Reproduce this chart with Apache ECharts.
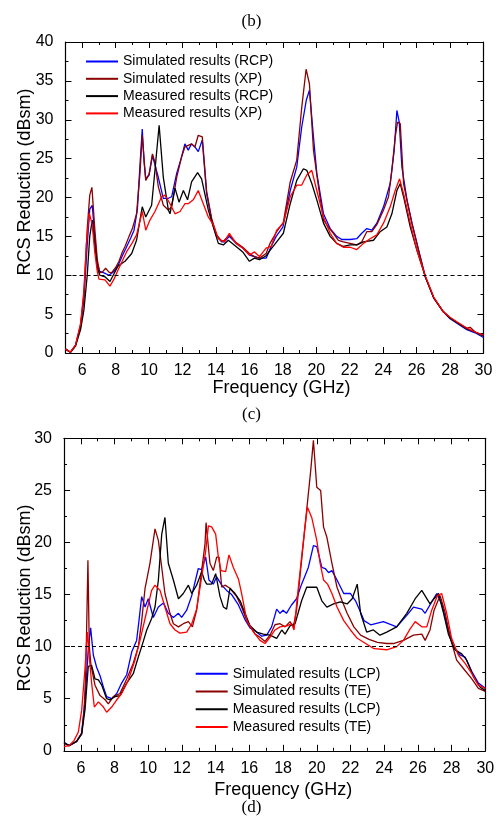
<!DOCTYPE html>
<html>
<head>
<meta charset="utf-8">
<script src="https://cdn.jsdelivr.net/npm/echarts@6/dist/echarts.min.js"></script>
<style>
  html, body { margin: 0; padding: 0; background: #fff; }
  #chart { width: 499px; height: 823px; }
</style>
</head>
<body>
<div id="chart"></div>
<script>
// ---- panel (c) ----
const cFreqSimRcp = [5.0,5.3,5.6,5.9,6.1,6.3,6.45,6.6,6.75,6.9,7.05,7.3,7.6,7.9,8.15,8.4,8.6,8.9,9.1,9.3,9.45,9.59,9.7,9.8,10.0,10.2,10.35,10.55,10.85,11.15,11.35,11.65,11.94,12.14,12.34,12.54,12.74,12.94,13.18,13.44,13.74,14.04,14.34,14.5,14.8,15.2,15.6,16.0,16.3,16.6,17.0,17.3,17.6,18.0,18.44,18.83,19.13,19.4,19.59,19.83,20.03,20.43,20.83,21.22,21.52,22.02,22.42,22.72,23.02,23.32,23.62,24.02,24.42,24.66,24.82,24.96,25.12,25.42,25.72,26.12,26.52,27.02,27.6,28.0,28.5,29.0,29.5,30];
const cSimRcp = [0.5,0.1,1.0,3.5,7,14,18.5,19.0,15,11.5,10.5,10.3,10.0,10.5,11.3,12.5,13.4,14.8,15.8,18.5,24,28.8,24.5,22.4,22.9,25.4,24.2,22.6,19.9,19.9,20.1,23.1,25.2,26.9,26.1,26.9,26.5,25.9,27.4,20.5,17.1,15.0,14.3,14.3,15.0,14.1,13.5,12.6,12.4,12.2,12.2,13.7,15.0,16.2,20.9,23.9,29.1,32.5,33.8,27.8,23.1,17.9,16.0,15.0,14.6,14.6,14.7,15.4,16.0,15.8,16.7,18.8,21.8,26.1,31.2,29.7,23.9,19.7,16.7,13.2,9.8,7.1,5.3,4.4,3.7,3.0,2.6,2.0];

const cFreqSimXp = [5.0,5.3,5.6,5.9,6.1,6.3,6.45,6.58,6.75,6.9,7.05,7.2,7.4,7.6,7.75,8.0,8.2,8.4,8.56,8.8,9.0,9.25,9.45,9.59,9.8,10.0,10.2,10.35,10.55,10.85,11.15,11.35,11.65,11.94,12.14,12.34,12.54,12.74,12.94,13.18,13.44,13.74,14.04,14.34,14.5,14.8,15.2,15.6,16.0,16.3,16.6,17.0,17.23,17.63,18.03,18.44,18.83,19.13,19.39,19.59,19.83,20.13,20.43,20.73,21.02,21.32,21.62,22.02,22.42,22.72,23.02,23.32,23.62,24.02,24.32,24.52,24.72,24.86,25.02,25.22,25.42,25.72,26.12,26.52,27.02,27.6,28.0,28.5,29.0,29.2,29.5,30];
const cSimXp = [0.5,0.1,1.0,3.5,7.5,16,20.3,21.3,16,12,10.3,10.4,10.9,10.4,10.3,11.0,11.8,13.0,13.7,15.0,16.0,17.9,23,28.0,22.2,23.0,25.6,24.5,21.4,19.0,18.4,18.8,22.6,25.2,26.5,26.7,26.9,26.5,28.0,27.8,20.8,17.3,15.2,14.4,14.5,15.2,14.2,13.6,12.8,12.4,12.2,12.8,14.1,15.6,16.8,22.0,24.8,31.6,36.5,34.6,26.1,21.4,17.1,16.2,15.4,14.5,14.3,14.1,13.9,14.3,15.6,15.6,16.5,18.4,20.1,23.5,27.8,29.7,29.5,21.8,19.7,16.7,13.2,9.8,7.1,5.3,4.5,3.8,3.2,3.3,2.7,2.2];

const cFreqMeasRcp = [5.0,5.3,5.6,5.9,6.1,6.3,6.45,6.6,6.75,6.9,7.05,7.36,7.66,7.9,8.15,8.56,8.96,9.25,9.59,9.8,10.15,10.35,10.6,10.85,11.15,11.25,11.55,11.79,12.05,12.3,12.54,12.9,13.14,13.54,13.74,14.14,14.44,14.74,15.2,15.6,16.0,16.3,16.6,17.0,17.23,17.63,18.03,18.44,18.83,19.23,19.43,19.73,20.03,20.43,20.83,21.22,21.62,22.02,22.42,22.82,23.42,23.82,24.22,24.52,24.82,25.02,25.22,25.62,26.02,26.52,27.02,27.6,28.0,28.5,29.0,29.5,30];
const cMeasRcp = [0.5,0.1,0.9,3.0,5.5,10,15,17.1,14,11.0,10.0,9.8,9.2,10.2,11.2,11.8,12.8,14.5,18.8,17.5,19.0,23.5,29.3,22.6,18.4,17.9,21.2,19.4,20.9,19.7,22.0,23.2,22.4,18.4,16.9,14.1,13.9,14.5,13.7,13.0,11.8,12.2,12.0,12.5,13.2,14.3,15.4,19.2,22.2,23.7,23.5,21.8,19.7,16.7,15.0,14.1,13.7,13.9,13.9,14.3,14.5,15.6,16.2,17.9,20.9,21.8,20.1,16.2,13.2,9.8,7.1,5.3,4.5,3.8,3.1,2.7,2.2];

const cFreqMeasXp = [5.0,5.3,5.6,5.9,6.1,6.25,6.42,6.6,6.75,6.9,7.0,7.36,7.66,7.9,8.15,8.65,9.0,9.25,9.59,9.8,10.05,10.35,10.75,10.95,11.25,11.55,11.85,12.14,12.34,12.64,12.94,13.24,13.54,13.84,14.14,14.5,14.8,15.2,15.6,16.0,16.3,16.6,17.0,17.3,17.63,18.03,18.44,18.83,19.13,19.43,19.73,20.03,20.43,20.83,21.22,21.62,22.02,22.42,22.82,23.22,23.62,24.02,24.42,24.72,24.98,25.22,25.62,26.02,26.52,27.02,27.6,28.0,28.5,29.0,29.5,30];
const cMeasXp = [0.5,0.1,1.0,3.8,8,14,18.0,16.5,13,10.5,9.5,9.4,8.6,9.5,10.7,13.0,14.2,15.2,18.2,15.8,17.1,18.2,20.1,20.3,19.2,17.9,18.2,19.2,19.2,19.7,20.9,19.2,17.5,16.5,14.7,14.3,15.4,14.1,13.5,12.6,13.0,12.4,13.5,13.7,15.8,16.7,20.1,21.6,21.6,22.9,23.5,20.9,17.5,15.4,14.1,13.6,13.6,13.3,14.1,14.7,15.2,16.7,18.8,20.9,22.4,20.5,16.7,13.2,9.9,7.2,5.3,4.6,3.9,3.2,2.7,2.3];

// ---- panel (d) ----
const dFreqSimLcp = [5.0,5.3,5.75,6.05,6.25,6.45,6.58,6.74,6.94,7.14,7.34,7.53,7.83,8.13,8.42,8.72,9.02,9.31,9.45,9.61,9.81,10.0,10.3,10.6,10.9,11.19,11.49,11.79,11.98,12.28,12.58,12.97,13.17,13.41,13.6,13.86,14.06,14.36,14.65,14.95,15.35,15.74,16.04,16.43,16.73,17.03,17.32,17.62,17.82,18.0,18.2,18.5,18.8,19.1,19.5,19.8,20.0,20.3,20.5,20.7,20.9,21.2,21.6,22.0,22.3,22.6,22.8,23.2,23.95,24.74,25.34,25.74,26.23,26.43,26.82,27.12,27.41,27.71,28.1,28.5,28.8,29.2,29.59,30];
const dSimLcp = [0.8,0.5,0.9,1.7,5,10,11.8,9.2,8.0,7.2,6.1,5.2,5.0,5.5,6.5,7.3,9.5,10.6,12.5,14.8,13.8,14.6,12.8,13.8,14.2,13.2,12.8,13.2,12.8,13.5,14.9,17.5,17.4,18.6,16.4,16.0,16.7,15.9,15.4,15.0,14.0,12.6,11.8,11.4,11.0,11.1,11.9,13.6,13.2,13.5,13.2,14.0,14.6,16.0,17.6,19.7,19.6,17.6,17.5,17.1,17.3,16.4,15.1,15.1,14.4,13.3,12.5,12.1,12.4,11.9,13.0,13.8,13.6,13.2,14.3,15.1,14.1,12.2,10.0,9.2,9.0,7.6,6.5,6.0];

const dFreqSimTe = [5.0,5.3,5.75,6.05,6.2,6.3,6.42,6.5,6.6,6.84,7.14,7.44,7.63,7.93,8.32,8.72,9.11,9.41,9.61,9.81,10.1,10.4,10.6,10.8,10.99,11.29,11.49,11.79,12.08,12.38,12.62,12.87,13.17,13.37,13.43,13.66,13.86,14.06,14.2,14.36,14.55,14.85,15.25,15.54,15.84,16.14,16.34,16.63,16.93,17.22,17.52,17.82,18.12,18.41,18.61,18.8,19.1,19.4,19.64,19.8,20.0,20.23,20.4,20.6,20.9,21.2,21.5,21.8,22.2,22.6,23.1,23.6,24.15,24.55,25.14,25.74,26.23,26.43,26.72,26.96,27.32,27.61,27.91,28.3,28.7,29.2,29.59,30];
const dSimTe = [0.7,0.5,0.9,1.7,4,8,18.3,10,8.2,6.3,5.3,4.9,4.5,5.2,5.5,6.9,8.4,10.0,12.5,15.6,18.0,21.3,20.2,17.6,15.1,13.2,12.2,11.9,12.2,12.4,11.9,13.5,17.3,19.9,21.9,18.0,17.3,18.6,18.6,15.7,15.9,15.6,14.8,13.8,12.5,11.7,11.2,10.9,10.5,11.1,12.1,12.2,11.9,12.4,11.9,13.5,18.3,23.1,26.9,29.8,25.3,25.0,21.5,20.5,18.0,15.7,14.4,13.2,11.9,11.1,10.7,10.4,10.3,10.3,10.6,11.1,11.2,10.6,11.6,13.5,14.9,13.3,10.9,8.7,7.9,6.9,6.0,5.7];

const dFreqMeasLcp = [5.0,5.3,5.75,6.05,6.25,6.44,6.64,6.84,7.04,7.24,7.53,7.73,8.03,8.32,8.72,9.11,9.41,9.61,9.91,10.2,10.4,10.6,10.8,10.99,11.19,11.49,11.79,12.08,12.38,12.58,12.87,13.17,13.33,13.47,13.76,14.0,14.26,14.46,14.65,14.85,15.15,15.45,15.74,16.04,16.43,16.83,17.22,17.62,17.92,18.12,18.41,18.71,19.1,19.4,19.7,20.0,20.3,20.6,21.0,21.4,21.8,22.1,22.4,22.6,22.96,23.36,23.75,24.15,24.74,25.34,25.84,26.23,26.72,26.96,27.22,27.51,27.81,28.2,28.6,28.9,29.3,29.7,30];
const dMeasLcp = [0.8,0.5,0.9,1.6,4,8.1,8.2,6.9,6.8,6.3,5.0,4.9,5.2,5.3,6.5,7.4,9.0,10.0,11.6,12.7,13.8,16.4,20.8,22.4,18.0,16.4,14.6,15.1,15.9,15.1,15.9,17.2,16.4,16.0,16.0,17.0,14.8,13.8,13.6,15.6,15.1,14.4,13.2,12.0,11.4,11.2,11.1,10.8,11.6,11.2,12.0,12.2,14.4,15.7,15.7,15.7,14.4,13.8,14.1,14.3,14.1,14.6,16.0,13.2,11.4,11.6,11.1,11.4,11.9,13.2,14.6,15.4,14.1,14.6,15.1,13.3,11.2,9.7,9.3,8.7,7.1,6.1,5.8];

const dFreqMeasTe = [5.0,5.3,5.6,5.85,6.05,6.25,6.38,6.5,6.64,6.8,7.04,7.34,7.53,7.83,8.13,8.42,8.82,9.21,9.51,9.81,10.2,10.4,10.7,10.99,11.29,11.59,11.88,12.28,12.58,12.87,13.17,13.41,13.57,13.76,14.0,14.16,14.32,14.59,14.79,15.05,15.35,15.54,15.85,16.25,16.63,16.93,17.22,17.52,17.82,18.22,18.51,18.65,18.85,19.1,19.3,19.44,19.7,20.0,20.2,20.4,20.64,20.9,21.2,21.6,22.0,22.4,22.9,23.4,24.15,24.74,25.14,25.54,25.84,26.23,26.53,26.82,27.16,27.41,27.71,28.0,28.4,28.8,29.2,29.59,30];
const dMeasTe = [0.4,0.5,1.0,1.8,3.9,8.0,11.4,9,6.5,4.2,4.7,4.2,3.7,4.2,4.9,5.5,6.8,8.7,10.6,12.7,15.4,15.9,15.4,13.8,12.2,11.6,11.3,11.4,12.2,13.6,16.7,19.2,21.6,21.5,20.8,18.6,17.3,17.2,18.8,17.6,16.5,15.1,12.5,11.4,10.6,10.3,10.9,11.6,11.9,12.0,12.2,11.6,14.8,18.6,21.5,23.4,22.4,20.2,18.0,16.4,16.0,15.1,13.8,12.5,11.6,10.8,10.3,9.8,9.7,10.0,10.6,11.7,12.4,11.9,11.9,13.5,14.9,15.1,13.2,10.8,9.2,8.4,7.4,6.3,6.0];

// axis ticks / labels
const freqLabels = [6, 8, 10, 12, 14, 16, 18, 20, 22, 24, 26, 28, 30];
const freqMinor = [7, 9, 11, 13, 15, 17, 19, 21, 23, 25, 27, 29];
const threshold = 10;

const FONT = '"Liberation Sans", Arial, sans-serif';
const SERIF = '"Liberation Serif", "Times New Roman", serif';
const BLUE = '#0000ff', DARKRED = '#8b0000', BLACK = '#000000', RED = '#ff0000';

const zip = (xs, ys) => xs.map((x, i) => [x, ys[i]]);

const grids = [
  { left: 65.5, top: 42, width: 418, height: 311 },
  { left: 64, top: 438.3, width: 421.3, height: 312.5 }
];

function xAxesFor(gridIndex) {
  const base = {
    gridIndex, type: 'value', min: 5, max: 30, interval: 1,
    splitLine: { show: false },
    axisLine: { show: true, lineStyle: { color: '#000', width: 1.2 } }
  };
  return [
    { ...base, position: 'bottom',
      axisTick: { inside: true, length: 6, customValues: freqLabels, lineStyle: { color: '#000' } },
      axisLabel: { customValues: freqLabels, color: '#000', fontSize: 16, fontFamily: FONT, margin: 10 } },
    { ...base, position: 'bottom', axisLine: { show: false },
      axisTick: { inside: true, length: 3, customValues: freqMinor, lineStyle: { color: '#000' } },
      axisLabel: { show: false } },
    { ...base, position: 'top',
      axisTick: { inside: true, length: 6, customValues: freqLabels, lineStyle: { color: '#000' } },
      axisLabel: { show: false } },
    { ...base, position: 'top', axisLine: { show: false },
      axisTick: { inside: true, length: 3, customValues: freqMinor, lineStyle: { color: '#000' } },
      axisLabel: { show: false } }
  ];
}

function yAxesFor(gridIndex, max) {
  const base = {
    gridIndex, type: 'value', min: 0, max, interval: 5,
    splitLine: { show: false },
    axisLine: { show: true, lineStyle: { color: '#000', width: 1.2 } },
    axisTick: { inside: true, length: 6, lineStyle: { color: '#000' } },
    minorTick: { show: true, splitNumber: 2, length: 3, lineStyle: { color: '#000' } }
  };
  return [
    { ...base, position: 'left',
      axisLabel: { color: '#000', fontSize: 16, fontFamily: FONT, margin: 12 } },
    { ...base, position: 'right', axisLabel: { show: false } }
  ];
}

function line(name, data, color, xAxisIndex, yAxisIndex) {
  return {
    name, type: 'line', data, xAxisIndex, yAxisIndex,
    showSymbol: false, symbol: 'none', animation: false,
    color, lineStyle: { color, width: 1.3 }
  };
}

function thresholdLine(xAxisIndex, yAxisIndex) {
  return {
    type: 'line', data: [], xAxisIndex, yAxisIndex, silent: true,
    markLine: {
      silent: true, symbol: ['none', 'none'], animation: false,
      label: { show: false },
      lineStyle: { color: '#000', width: 1, type: [4, 3] },
      data: [{ yAxis: threshold }]
    }
  };
}

const legendBase = {
  orient: 'vertical', icon: 'rect', itemWidth: 32, itemHeight: 2,
  padding: 0, selectedMode: false,
  textStyle: { color: '#000', fontSize: 14, fontFamily: FONT }
};

const titleText = (text, x, y, font, rotation) => ({
  type: 'text', x, y, rotation: rotation || 0, silent: true,
  style: { text, font, fill: '#000', textAlign: 'center', textVerticalAlign: 'middle' }
});

const chart = echarts.init(document.getElementById('chart'), null, { renderer: 'canvas' });
chart.setOption({
  animation: false,
  backgroundColor: '#fff',
  grid: grids.map(g => ({ ...g, containLabel: false, outerBoundsMode: 'none' })),
  xAxis: [...xAxesFor(0), ...xAxesFor(1)],
  yAxis: [...yAxesFor(0, 40), ...yAxesFor(1, 30)],
  legend: [
    { ...legendBase, left: 86, top: 54.5, itemGap: 3.3,
      data: ['Simulated results (RCP)', 'Simulated results (XP)', 'Measured results (RCP)', 'Measured results (XP)'] },
    { ...legendBase, left: 195.7, top: 666.8, itemGap: 3.7,
      data: ['Simulated results (LCP)', 'Simulated results (TE)', 'Measured results (LCP)', 'Measured results (TE)'] }
  ],
  graphic: [
    titleText('(b)', 251.5, 22, '17px ' + SERIF),
    titleText('Frequency (GHz)', 281.5, 388, '18px ' + FONT),
    titleText('(c)', 251.5, 415, '17px ' + SERIF),
    titleText('RCS Reduction (dBsm)', 25, 182, '18px ' + FONT, Math.PI / 2),
    titleText('Frequency (GHz)', 283.3, 790, '18px ' + FONT),
    titleText('(d)', 251.5, 808, '17px ' + SERIF),
    titleText('RCS Reduction (dBsm)', 25, 598, '18px ' + FONT, Math.PI / 2)
  ],
  series: [
    thresholdLine(0, 0),
    line('Simulated results (RCP)', zip(cFreqSimRcp, cSimRcp), BLUE, 0, 0),
    line('Simulated results (XP)', zip(cFreqSimXp, cSimXp), DARKRED, 0, 0),
    line('Measured results (RCP)', zip(cFreqMeasRcp, cMeasRcp), BLACK, 0, 0),
    line('Measured results (XP)', zip(cFreqMeasXp, cMeasXp), RED, 0, 0),
    thresholdLine(4, 2),
    line('Simulated results (LCP)', zip(dFreqSimLcp, dSimLcp), BLUE, 4, 2),
    line('Simulated results (TE)', zip(dFreqSimTe, dSimTe), DARKRED, 4, 2),
    line('Measured results (LCP)', zip(dFreqMeasLcp, dMeasLcp), BLACK, 4, 2),
    line('Measured results (TE)', zip(dFreqMeasTe, dMeasTe), RED, 4, 2)
  ]
});
</script>
</body>
</html>
